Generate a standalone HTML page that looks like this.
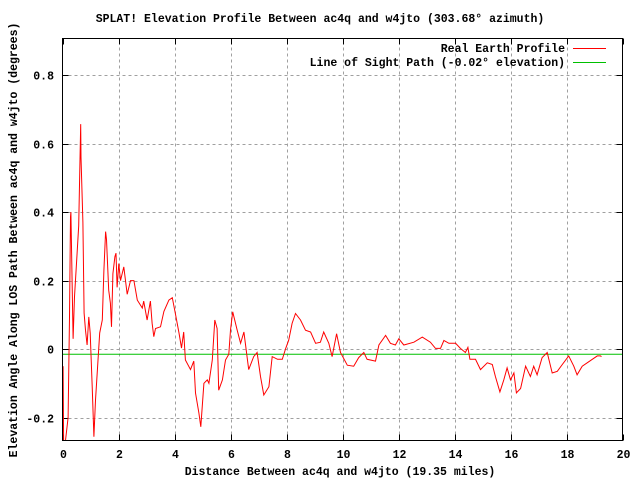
<!DOCTYPE html>
<html><head><meta charset="utf-8"><style>
body{margin:0;background:#fff}
svg{display:block}
text{font-family:"Liberation Mono","DejaVu Sans Mono",monospace;font-size:11.5px;font-weight:bold;fill:#000}
</style></head><body>
<svg id="chart" width="640" height="480" xmlns="http://www.w3.org/2000/svg">
<text x="320" y="22" text-anchor="middle">SPLAT! Elevation Profile Between ac4q and w4jto (303.68° azimuth)</text>
<text x="340" y="475" text-anchor="middle">Distance Between ac4q and w4jto (19.35 miles)</text>
<text transform="translate(17,240) rotate(-90)" text-anchor="middle">Elevation Angle Along LOS Path Between ac4q and w4jto (degrees)</text>
<g id="grid"></g><g id="ticks"></g><g id="series"></g>
<rect x="62.5" y="38.5" width="560" height="402" fill="none" stroke="#000"/>
<g>
<text x="565" y="52" text-anchor="end">Real Earth Profile</text>
<line x1="573" y1="48.5" x2="606" y2="48.5" stroke="#ff0000"/>
<text x="565" y="66" text-anchor="end">Line of Sight Path (-0.02° elevation)</text>
<line x1="573" y1="62.5" x2="606" y2="62.5" stroke="#00c000"/>
</g>
</svg>
<script>
const xTicks=[0,2,4,6,8,10,12,14,16,18,20];
const yTicks=[-0.2,0,0.2,0.4,0.6,0.8];
const yTickLabels=["-0.2","0","0.2","0.4","0.6","0.8"];
const losAngle=-0.015;
const distances=[0,0.02,0.04,0.107,0.2,0.25,0.286,0.3,0.38,0.43,0.52,0.58,0.62,0.65,0.66,0.73,0.77,0.82,0.88,0.94,0.99,1.06,1.12,1.18,1.26,1.33,1.42,1.48,1.54,1.57,1.65,1.71,1.75,1.8,1.87,1.91,1.95,2.01,2.07,2.19,2.31,2.43,2.55,2.67,2.85,2.9,3.02,3.14,3.2,3.26,3.32,3.5,3.62,3.8,3.92,4.04,4.16,4.25,4.33,4.39,4.57,4.69,4.75,4.87,4.94,5.05,5.17,5.23,5.35,5.44,5.52,5.58,5.71,5.82,5.94,6.0,6.08,6.24,6.36,6.48,6.65,6.83,6.95,7.07,7.19,7.37,7.49,7.68,7.85,7.97,8.08,8.2,8.32,8.5,8.68,8.86,9.04,9.21,9.33,9.51,9.63,9.79,9.93,10.17,10.4,10.58,10.76,10.88,11.18,11.3,11.54,11.71,11.89,12.01,12.19,12.55,12.85,13.14,13.32,13.5,13.62,13.8,14.04,14.21,14.39,14.48,14.55,14.75,14.93,15.17,15.35,15.46,15.62,15.76,15.88,16.0,16.12,16.21,16.36,16.54,16.71,16.83,16.95,17.13,17.31,17.49,17.67,17.85,18.08,18.26,18.38,18.56,18.74,18.92,19.1,19.21,19.25];
const elevations=[-0.06,-0.05,-0.27,-0.27,-0.2,0.094,0.386,0.40,0.03,0.153,0.28,0.36,0.54,0.657,0.56,0.37,0.105,0.055,0.012,0.094,0.047,-0.11,-0.256,-0.149,-0.042,0.047,0.085,0.23,0.343,0.32,0.172,0.134,0.065,0.22,0.27,0.28,0.18,0.25,0.2,0.24,0.16,0.2,0.2,0.143,0.12,0.14,0.085,0.14,0.076,0.036,0.06,0.065,0.11,0.143,0.15,0.1,0.047,0.003,0.05,-0.032,-0.06,-0.035,-0.128,-0.187,-0.227,-0.1,-0.09,-0.1,-0.032,0.085,0.06,-0.12,-0.09,-0.032,-0.015,0.055,0.109,0.055,0.017,0.05,-0.06,-0.022,-0.01,-0.08,-0.134,-0.11,-0.022,-0.03,-0.03,0.002,0.026,0.075,0.104,0.085,0.055,0.05,0.017,0.02,0.05,0.017,-0.022,0.045,-0.01,-0.047,-0.05,-0.025,-0.01,-0.03,-0.035,0.012,0.04,0.017,0.012,0.03,0.012,0.02,0.035,0.02,0.002,0.002,0.025,0.017,0.017,0.002,-0.01,0.005,-0.03,-0.03,-0.06,-0.04,-0.045,-0.08,-0.125,-0.09,-0.055,-0.09,-0.07,-0.128,-0.115,-0.05,-0.08,-0.05,-0.075,-0.025,-0.01,-0.07,-0.065,-0.045,-0.02,-0.05,-0.075,-0.05,-0.04,-0.03,-0.02,-0.02,-0.022];
const X0=62.5,X1=622.5,Y0=440.5,Y1=38.5,XMIN=0,XMAX=20,YMIN=-0.267,YMAX=0.907;
const sx=v=>X0+(v-XMIN)/(XMAX-XMIN)*(X1-X0);
const sy=v=>Y0-(v-YMIN)/(YMAX-YMIN)*(Y0-Y1);
const NS="http://www.w3.org/2000/svg";
function mk(t,a,p){const e=document.createElementNS(NS,t);for(const k in a)e.setAttribute(k,a[k]);p.appendChild(e);return e;}
const grid=document.getElementById('grid'),ticks=document.getElementById('ticks'),series=document.getElementById('series');
xTicks.forEach(t=>{const x=Math.round(sx(t))+0.5;
 if(t>XMIN&&t<XMAX){const g=mk('line',{x1:x,y1:Y0,x2:x,y2:Y1,stroke:'#a0a0a0','stroke-dasharray':'3,3'},grid);
 
 }
 const a=mk('line',{x1:x,y1:Y0,x2:x,y2:Y0-6,stroke:'#000'},ticks);
 
 
 const b=mk('line',{x1:x,y1:Y1,x2:x,y2:Y1+6,stroke:'#000'},ticks);
 
 
 const l=mk('text',{x:x,y:458,'text-anchor':'middle'},ticks);l.textContent=String(t);
 
 });
yTicks.forEach((t,i)=>{const y=Math.round(sy(t))+0.5;
 const g=mk('line',{x1:X0,y1:y,x2:X1,y2:y,stroke:'#a0a0a0','stroke-dasharray':'3,3'},grid);
 
 
 const a=mk('line',{x1:X0,y1:y,x2:X0+6,y2:y,stroke:'#000'},ticks);
 
 
 const b=mk('line',{x1:X1,y1:y,x2:X1-6,y2:y,stroke:'#000'},ticks);
 
 
 const l=mk('text',{x:54,y:y+4,'text-anchor':'end'},ticks);l.textContent=yTickLabels[i];
 
 });
const los=mk('line',{x1:X0,y1:sy(losAngle),x2:X1,y2:sy(losAngle),stroke:'#00c000'},series);


const pts=distances.map((d,i)=>sx(d).toFixed(1)+','+Math.max(Y1,Math.min(Y0,sy(elevations[i]))).toFixed(1)).join(' ');
const pl=mk('polyline',{points:pts,fill:'none',stroke:'#ff0000','stroke-width':1},series);


</script>
</body></html>
